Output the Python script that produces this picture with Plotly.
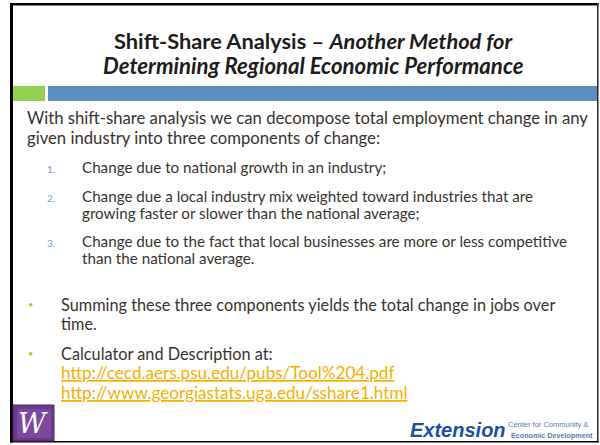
import plotly.graph_objects as go

# ---- content ----
title_lines = ["<b>Shift-Share Analysis – <i>Another Method for</i></b>",
               "<b><i>Determining Regional Economic Performance</i></b>"]
intro_lines = ["With shift-share analysis we can decompose total employment change in any",
               "given industry into three components of change:"]
item_numbers = ["1.", "2.", "3."]
item_texts = [["Change due to national growth in an industry;"],
              ["Change due a local industry mix weighted toward industries that are",
               "growing faster or slower than the national average;"],
              ["Change due to the fact that local businesses are more or less competitive",
               "than the national average."]]
bullet_texts = [["Summing these three components yields the total change in jobs over", "time."],
                ["Calculator and Description at:"]]
links = ["http://cecd.aers.psu.edu/pubs/Tool%204.pdf",
         "http://www.georgiastats.uga.edu/sshare1.html"]

FONT = "Lato"
TXT = "#37332e"
NUMC = "#6f9ccf"
BULC = "#92d050"
LINKC = "#f5b000"
W, H = 600, 445

fig = go.Figure()
shapes = []
ann = []

def A(x, y, text, size, color=TXT, anchor="left", family=FONT):
    ann.append(dict(x=x, y=y, xref="x", yref="y", text=text, showarrow=False,
                    xanchor=anchor, yanchor="middle",
                    font=dict(family=family, size=size, color=color)))

def R(x0, x1, y0, y1, fill, line=None):
    shapes.append(dict(type="rect", xref="x", yref="y", x0=x0, x1=x1, y0=y0, y1=y1,
                       fillcolor=fill, line=line or dict(width=0), layer="above"))

# slide border
R(10, 13, 3, 442.5, "black")
R(10, 598.5, 3, 5.5, "black")
R(597, 598.5, 3, 442.5, "#2a2a2a")
R(10, 598.5, 441, 442.5, "black")

# accent bars
R(13, 45, 86, 101, "#92d050")
R(48, 597, 86, 101, "#5b8dbd")

# title
A(313, 40, title_lines[0], 21.8, "#1c1c1c", "center")
A(313, 65, title_lines[1], 22.2, "#1c1c1c", "center")

# intro
A(25, 118, intro_lines[0], 16.7)
A(25, 138, intro_lines[1], 16.7)

# numbered items
item_y = [[167], [196, 213], [241, 258]]
for n, lines, ys in zip(item_numbers, item_texts, item_y):
    A(45, ys[0] + 1.5, n, 10, NUMC)
    for t, y in zip(lines, ys):
        A(80, y, t, 15.2)

# bullets
bullet_y = [[304, 323], [353]]
for lines, ys in zip(bullet_texts, bullet_y):
    A(26, ys[0], "•", 9, BULC)
    for t, y in zip(lines, ys):
        A(59, y, t, 16.3)
for t, y in zip(links, [372, 392]):
    A(59, y, "<u>" + t + "</u>", 17.1, LINKC)

# W logo
R(13, 54, 405, 441, "#6a3a8c", dict(color="#4a2466", width=1))
R(17, 51, 409, 438, "#7b4aa0")
A(33, 423, "<i>W</i>", 27, "white", "center", "DejaVu Serif")

# Extension logo
A(408, 430, "<b><i>Extension</i></b>", 20, "#1f4e9e", "left", "Liberation Sans")
A(506, 424, "Center for Community &", 7.5, "#5a7bb0", "left", "Liberation Sans")
A(509, 435, "<b>Economic Development</b>", 7.2, "#5a7bb0", "left", "Liberation Sans")

fig.update_layout(width=W, height=H, margin=dict(l=0, r=0, t=0, b=0),
                  paper_bgcolor="white", plot_bgcolor="white",
                  xaxis=dict(range=[0, W], visible=False, fixedrange=True),
                  yaxis=dict(range=[H, 0], visible=False, fixedrange=True),
                  shapes=shapes, annotations=ann, showlegend=False)
fig.write_html("out.html", config={"displayModeBar": False},
               post_script="document.body.style.margin='0px';")
